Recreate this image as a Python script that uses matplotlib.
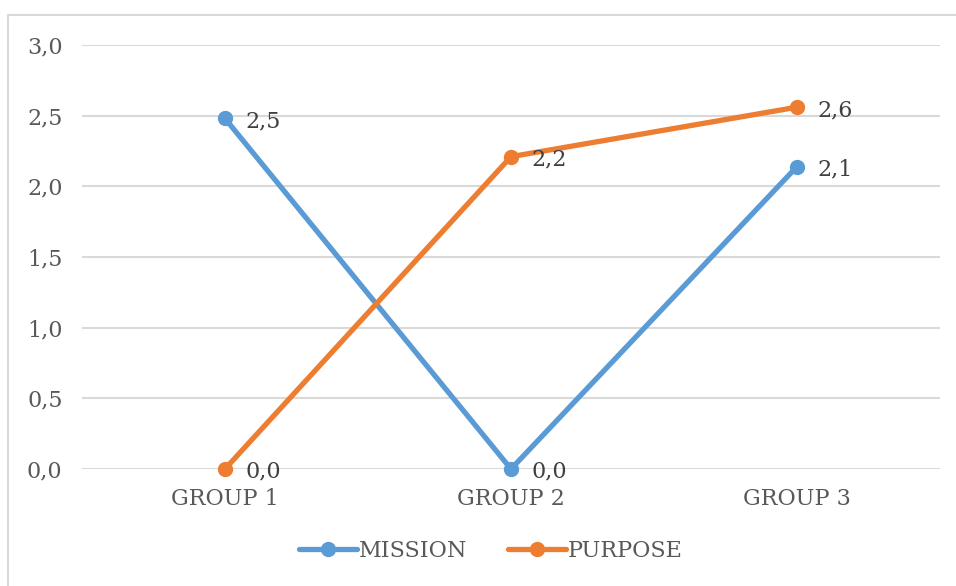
import matplotlib
matplotlib.use("Agg")
import matplotlib.pyplot as plt
from matplotlib.patches import Rectangle

categories = ["GROUP 1", "GROUP 2", "GROUP 3"]
mission = [2.48, 0.0, 2.14]
purpose = [0.0, 2.21, 2.56]
y_ticks = [0.0, 0.5, 1.0, 1.5, 2.0, 2.5, 3.0]

BLUE = "#5B9BD5"
ORANGE = "#ED7D31"
TEXT = "#595959"
GRID = "#D9D9D9"
FS = 16

plt.rcParams["font.family"] = ["DejaVu Serif"]

fig = plt.figure(figsize=(9.56, 5.86), dpi=100)
fig.patch.set_facecolor("white")

# chart frame
fig.patches.append(Rectangle((8 / 956, -0.1), 1.2, 1 - 15 / 586 + 0.1,
                             transform=fig.transFigure, fill=False,
                             edgecolor=GRID, linewidth=1.5, zorder=0))

ax = fig.add_axes([82 / 956, 1 - 469 / 586, (940 - 82) / 956, (469 - 45) / 586])
x = list(range(len(categories)))

def fmt(v):
    return f"{v:.1f}".replace(".", ",")

for vals, color, name in [(mission, BLUE, "MISSION"), (purpose, ORANGE, "PURPOSE")]:
    ax.plot(x, vals, color=color, linewidth=3.8, marker="o", markersize=10,
            label=name, solid_capstyle="round", zorder=3, clip_on=False)
    for xi, v in zip(x, vals):
        ax.annotate(fmt(v), (xi, v), xytext=(15, -2), textcoords="offset points",
                    ha="left", va="center", fontsize=FS, color="#404040")

ax.set_xlim(-0.5, 2.5)
ax.set_ylim(0, 3.0)
ax.set_yticks(y_ticks)
ax.set_yticklabels([fmt(t) for t in y_ticks])
ax.set_xticks(x)
ax.set_xticklabels(categories)
ax.tick_params(axis="both", length=0, labelsize=FS, labelcolor=TEXT)
ax.tick_params(axis="y", pad=14)
ax.tick_params(axis="x", pad=14)
ax.grid(axis="y", color=GRID, linewidth=1.5)
ax.set_axisbelow(True)
for s in ax.spines.values():
    s.set_visible(False)

leg = fig.legend(loc="center", bbox_to_anchor=(491 / 956, 1 - 551 / 586), ncol=2,
                 frameon=False, fontsize=FS, handlelength=2.6, handletextpad=0.1,
                 columnspacing=1.8, labelcolor=TEXT)

fig.savefig("out.png", dpi=100, facecolor="white")
